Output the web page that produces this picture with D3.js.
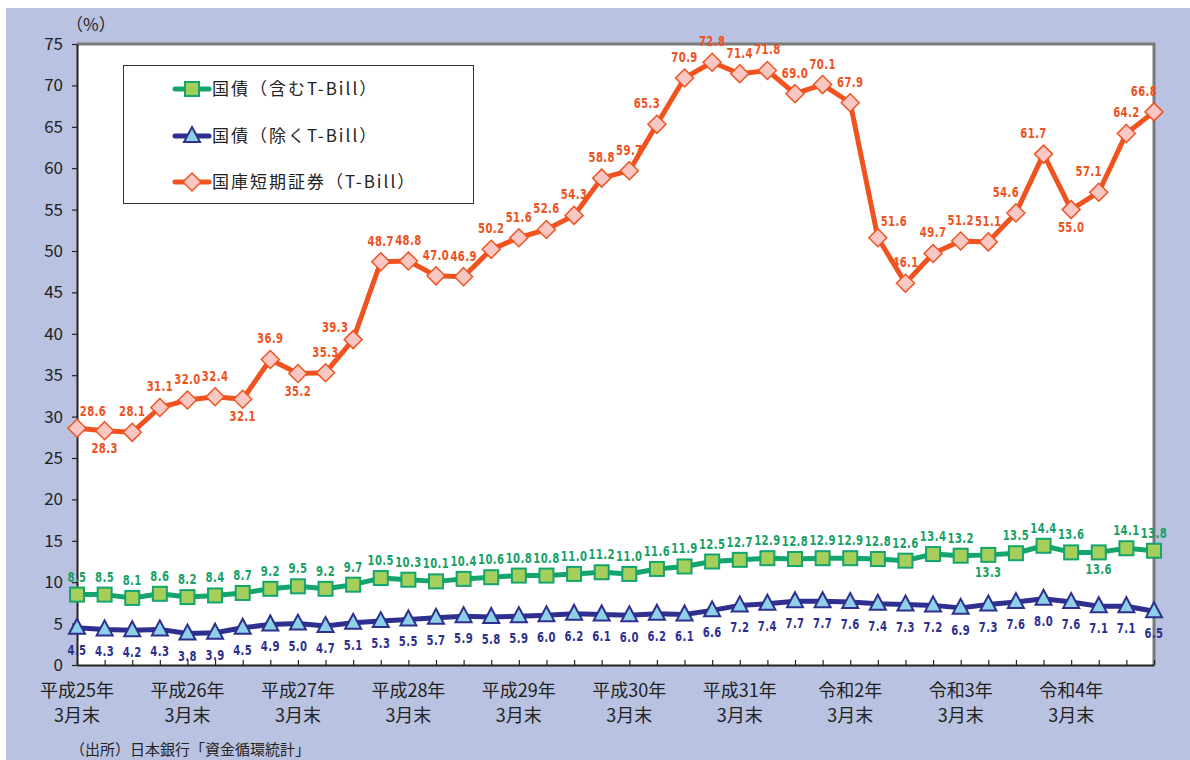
<!DOCTYPE html>
<html><head><meta charset="utf-8">
<script src="https://cdn.jsdelivr.net/npm/d3@7"></script>
<style>
html,body{margin:0;padding:0;background:#fff;}
svg{display:block;}
</style></head>
<body>
<svg id="c" width="1190" height="760"></svg>
<script>
// ---- data ----
const periods = d3.range(40); // quarterly, 平成25年3月末 ... 令和4年12月末
const yearLabels = ["平成25年","平成26年","平成27年","平成28年","平成29年","平成30年","平成31年","令和2年","令和3年","令和4年"];
const monthLabel = "3月末";
const seriesNames = ["国債（含むT-Bill）","国債（除くT-Bill）","国庫短期証券（T-Bill）"];
const jgbIncl = [8.5,8.5,8.1,8.6,8.2,8.4,8.7,9.2,9.5,9.2,9.7,10.5,10.3,10.1,10.4,10.6,10.8,10.8,11.0,11.2,11.0,11.6,11.9,12.5,12.7,12.9,12.8,12.9,12.9,12.8,12.6,13.4,13.2,13.3,13.5,14.4,13.6,13.6,14.1,13.8];
const jgbExcl = [4.5,4.3,4.2,4.3,3.8,3.9,4.5,4.9,5.0,4.7,5.1,5.3,5.5,5.7,5.9,5.8,5.9,6.0,6.2,6.1,6.0,6.2,6.1,6.6,7.2,7.4,7.7,7.7,7.6,7.4,7.3,7.2,6.9,7.3,7.6,8.0,7.6,7.1,7.1,6.5];
const tbill = [28.6,28.3,28.1,31.1,32.0,32.4,32.1,36.9,35.2,35.3,39.3,48.7,48.8,47.0,46.9,50.2,51.6,52.6,54.3,58.8,59.7,65.3,70.9,72.8,71.4,71.8,69.0,70.1,67.9,51.6,46.1,49.7,51.2,51.1,54.6,61.7,55.0,57.1,64.2,66.8];
const yTicks = d3.range(0,80,5);
// label side per point: a=above, b=below, ar=above-right, al=above-left (far), l=above slightly left
const tbillSide = tbill.map((v,i)=> [1,6,8,36].includes(i) ? "b" : (i===0||i===29) ? "ar" : (i===10) ? "al" : [21,34,35,37,39].includes(i) ? "l" : "a");
const inclSide = jgbIncl.map((v,i)=> [33,37].includes(i) ? "b" : "a");
const exclSide = jgbExcl.map(()=> "b");

// ---- layout ----
const svg = d3.select("#c");
const L=77, R=1154, T=44, B=665;
const x = d3.scalePoint().domain(periods).range([L,R]);
const y = d3.scaleLinear().domain([0,75]).range([B,T]);
const JP = "'Noto Sans CJK JP','Noto Sans',sans-serif";
const NUM = "'DejaVu Sans Condensed','DejaVu Sans',sans-serif";

svg.append("rect").attr("x",6).attr("y",8).attr("width",1184).attr("height",752).attr("fill","#b9c3e1");
svg.append("rect").attr("x",L).attr("y",T).attr("width",R-L).attr("height",B-T).attr("fill","#fff");
// top / right border
svg.append("path").attr("d",`M${L},${T}H${R}V${B}`).attr("fill","none").attr("stroke","#7a7a7a").attr("stroke-width",3);

// y axis
const yAxis = d3.axisLeft(y).tickValues(yTicks).tickSize(5).tickSizeOuter(0).tickPadding(9).tickFormat(d3.format("d"));
const gy = svg.append("g").attr("transform",`translate(${L},0)`).call(yAxis);
gy.select(".domain").attr("stroke","#222").attr("stroke-width",2);
gy.selectAll(".tick line").attr("stroke","#222").attr("stroke-width",1.2);
gy.selectAll("text").attr("font-family",JP).attr("font-size",17).attr("fill","#222");

// x axis with inward ticks
const xAxis = d3.axisBottom(x).tickSize(-5).tickSizeOuter(0).tickFormat("");
const gx = svg.append("g").attr("transform",`translate(0,${B})`).call(xAxis);
gx.select(".domain").attr("stroke","#222").attr("stroke-width",2);
gx.selectAll(".tick line").attr("stroke","#222").attr("stroke-width",1.2);

// x category labels
yearLabels.forEach((lab,k)=>{
  const xi = x(periods[k*4]);
  const t = svg.append("text").attr("x",xi).attr("text-anchor","middle")
    .attr("font-family",JP).attr("font-size",18).attr("fill","#222");
  t.append("tspan").attr("x",xi).attr("y",697).text(lab);
  t.append("tspan").attr("x",xi).attr("y",722).text(monthLabel);
});

svg.append("text").attr("x",66).attr("y",31).attr("font-family",JP).attr("font-size",17).attr("fill","#222").text("（%）");
svg.append("text").attr("x",70).attr("y",755).attr("font-family",JP).attr("font-size",15).attr("fill","#222").text("（出所）日本銀行「資金循環統計」");

// series
const series = [
  {data:jgbIncl, side:inclSide, line:"#13a56b", fill:"#a5cf5a", text:"#17a066", shape:"square"},
  {data:jgbExcl, side:exclSide, line:"#2e2f8e", fill:"#8dd0e8", text:"#2e2f8e", shape:"triangle"},
  {data:tbill, side:tbillSide, line:"#f0531f", fill:"#f9c8c4", text:"#ef5220", shape:"diamond"}
];
const line = d3.line().x((d,i)=>x(periods[i])).y(d=>y(d));

function marker(g, s, cx, cy){
  if(s.shape==="square"){
    g.append("rect").attr("x",cx-7).attr("y",cy-7).attr("width",14).attr("height",14)
      .attr("fill",s.fill).attr("stroke",s.line).attr("stroke-width",2);
  } else if(s.shape==="triangle"){
    g.append("path").attr("d",`M${cx},${cy-9}L${cx+8},${cy+6}L${cx-8},${cy+6}Z`)
      .attr("fill",s.fill).attr("stroke",s.line).attr("stroke-width",2);
  } else {
    g.append("path").attr("d",`M${cx},${cy-9}L${cx+9},${cy}L${cx},${cy+9}L${cx-9},${cy}Z`)
      .attr("fill",s.fill).attr("stroke",s.line).attr("stroke-width",1.5);
  }
}

series.forEach(s=>{
  svg.append("path").datum(s.data).attr("d",line).attr("fill","none")
    .attr("stroke",s.line).attr("stroke-width",5).attr("stroke-linejoin","round");
  const g = svg.append("g");
  s.data.forEach((v,i)=>marker(g,s,x(periods[i]),y(v)));
});
// labels drawn after markers
series.forEach(s=>{
  s.data.forEach((v,i)=>{
    const cx = x(periods[i]), cy = y(v), side = s.side[i];
    let dx=0, dy;
    if(side==="b"){ dy = s.shape==="triangle" ? 27 : 22; }
    else { dy = s.shape==="diamond" ? -16 : -13; }
    if(side==="ar"){ dx = 16; dy = -12; }
    if(side==="al"){ dx = -18; dy = -8; }
    if(side==="l"){ dx = -10; }
    svg.append("text").attr("transform",`translate(${cx+dx},${cy+dy}) scale(0.8,1)`)
      .attr("text-anchor","middle")
      .attr("font-family",NUM).attr("font-weight","bold").attr("font-size",14)
      .attr("letter-spacing","0.5px").attr("fill",s.text).text(v.toFixed(1));
  });
});

// legend
const lg = svg.append("g");
lg.append("rect").attr("x",123.5).attr("y",65.5).attr("width",350).attr("height",138).attr("fill","#fff").attr("stroke","#333").attr("stroke-width",1);
[89,136,182].forEach((ly,k)=>{
  const s = series[k];
  lg.append("line").attr("x1",175).attr("x2",209).attr("y1",ly).attr("y2",ly).attr("stroke",s.line).attr("stroke-width",5).attr("stroke-linecap","round");
  marker(lg,s,192,ly);
  lg.append("text").attr("x",212).attr("y",ly+6).attr("font-family",JP).attr("font-size",17)
    .attr("letter-spacing","2px").attr("fill","#222").text(seriesNames[k]);
});
</script>
</body></html>
